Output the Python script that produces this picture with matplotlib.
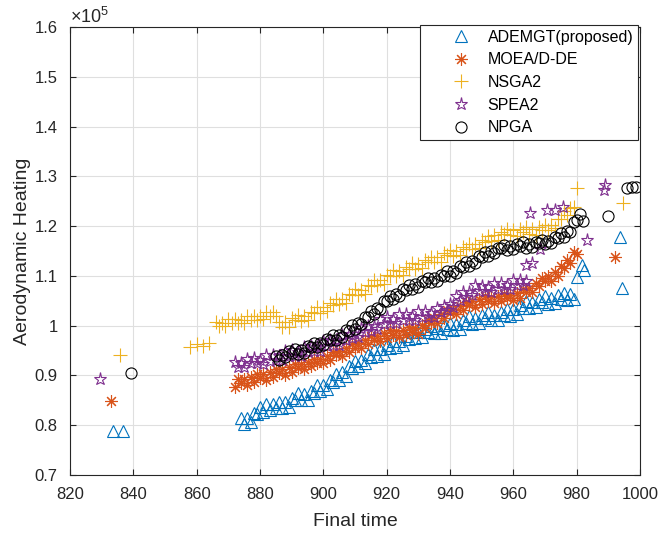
import matplotlib
matplotlib.use("Agg")
import matplotlib.pyplot as plt
from matplotlib.ticker import FormatStrFormatter, MultipleLocator

plt.rcParams['font.family'] = ['Liberation Sans', 'DejaVu Sans']
plt.rcParams['mathtext.fontset'] = 'custom'
plt.rcParams['mathtext.rm'] = 'Liberation Sans'

# Pareto fronts: final time vs aerodynamic heating (y in units of 1e5)
ademgt_x = [833.6, 836.7,
            874, 875, 876, 877, 878, 879, 880, 881, 882, 883, 884, 885, 886, 887, 888, 889, 890,
            891, 892, 893, 894, 895, 896, 897, 898, 899, 900, 901, 902, 903, 904, 905, 906, 907,
            908, 909, 910, 911, 912, 913, 914, 915, 916, 917, 918, 919, 920, 921, 922, 923, 924,
            925, 926, 927, 928, 929, 930, 931, 932, 933, 934, 935, 936, 937, 938, 939, 940, 941,
            942, 943, 944, 945, 946, 947, 948, 949, 950, 951, 952, 953, 954, 955, 956, 957, 958,
            959, 960, 961, 962, 963, 964, 965, 966, 967, 968, 969, 970, 971, 972, 973, 974, 975,
            976, 977, 978, 979,
            980, 981.6, 982.2, 993.7, 994.3]
ademgt_y = [0.788, 0.788,
            0.815, 0.802, 0.815, 0.806, 0.825, 0.822, 0.837, 0.827, 0.843, 0.830, 0.843, 0.834, 0.847,
            0.834, 0.846, 0.837, 0.855, 0.850, 0.864, 0.850, 0.862, 0.851, 0.868, 0.864, 0.880, 0.868,
            0.881, 0.873, 0.891, 0.887, 0.903, 0.891, 0.906, 0.898, 0.918, 0.914, 0.930, 0.918, 0.932,
            0.924, 0.943, 0.938, 0.953, 0.940, 0.953, 0.943, 0.961, 0.956, 0.970, 0.957, 0.970, 0.961,
            0.979, 0.974, 0.988, 0.975, 0.988, 0.977, 0.994, 0.987, 1.000, 0.985, 0.996, 0.985, 1.001,
            0.994, 1.006, 0.991, 1.004, 0.994, 1.012, 1.006, 1.019, 1.004, 1.016, 1.005, 1.022, 1.015,
            1.027, 1.011, 1.022, 1.011, 1.027, 1.021, 1.033, 1.020, 1.033, 1.024, 1.042, 1.036, 1.049,
            1.036, 1.048, 1.037, 1.053, 1.047, 1.059, 1.044, 1.055, 1.045, 1.061, 1.054, 1.066, 1.052,
            1.063, 1.053,
            1.098, 1.122, 1.112, 1.178, 1.075]

moead_x = [832.8,
           872, 873, 874, 875, 876, 877, 878, 879, 880, 881, 882, 883, 884, 885, 886, 887, 888,
           889, 890, 891, 892, 893, 894, 895, 896, 897, 898, 899, 900, 901, 902, 903, 904, 905,
           906, 907, 908, 909, 910, 911, 912, 913, 914, 915, 916, 917, 918, 919, 920, 921, 922,
           923, 924, 925, 926, 927, 928, 929, 930, 931, 932, 933, 934, 935, 936, 937, 938, 939,
           940, 941, 942, 943, 944, 945, 946, 947, 948, 949, 950, 951, 952, 953, 954, 955, 956,
           957, 958, 959, 960, 961, 962, 963, 964, 965, 966, 967, 968, 969, 970, 971, 972, 973,
           974, 975, 976, 977, 978, 979, 980,
           992.1]
moead_y = [0.849,
           0.876, 0.892, 0.884, 0.892, 0.880, 0.896, 0.887, 0.903, 0.895, 0.903, 0.891, 0.907, 0.897,
           0.913, 0.905, 0.912, 0.901, 0.917, 0.907, 0.923, 0.915, 0.923, 0.912, 0.927, 0.918, 0.934,
           0.926, 0.934, 0.924, 0.940, 0.932, 0.948, 0.941, 0.949, 0.939, 0.955, 0.947, 0.963, 0.956,
           0.965, 0.955, 0.971, 0.963, 0.980, 0.972, 0.980, 0.969, 0.985, 0.976, 0.991, 0.982, 0.989,
           0.977, 0.992, 0.982, 0.997, 0.988, 0.996, 0.984, 1.002, 0.995, 1.012, 1.006, 1.016, 1.006,
           1.023, 1.015, 1.032, 1.025, 1.034, 1.024, 1.040, 1.032, 1.048, 1.041, 1.049, 1.037, 1.053,
           1.043, 1.059, 1.050, 1.057, 1.045, 1.059, 1.049, 1.064, 1.055, 1.062, 1.051, 1.066, 1.056,
           1.073, 1.067, 1.076, 1.067, 1.086, 1.079, 1.096, 1.090, 1.099, 1.089, 1.107, 1.099, 1.120,
           1.116, 1.131, 1.126, 1.148, 1.144,
           1.137]

nsga2_x = [835.8,
           858, 860, 862, 864,
           866, 867, 868, 869, 870, 871, 872, 873, 874, 875, 876, 877, 878, 879, 880, 881, 882,
           883, 884, 885,
           886, 887, 888, 889, 890, 891, 892, 893, 894, 895, 896, 897, 898, 899, 900, 901, 902,
           903, 904, 905, 906, 907, 908, 909, 910, 911, 912, 913, 914, 915, 916, 917, 918, 919,
           920, 921, 922, 923, 924, 925, 926, 927, 928, 929, 930, 931, 932, 933, 934, 935, 936,
           937, 938, 939, 940, 941, 942, 943, 944, 945, 946, 947, 948, 949, 950, 951, 952, 953,
           954, 955, 956, 957, 958, 959, 960, 961, 962, 963, 964, 965, 966, 967, 968, 969, 970,
           971, 972, 973, 974, 975, 976, 977, 978, 979,
           980, 994.7]
nsga2_y = [0.941,
           0.958, 0.963, 0.960, 0.966,
           1.007, 0.999, 1.005, 0.999, 1.013, 1.006, 1.014, 1.006, 1.012, 1.006, 1.020, 1.012, 1.020,
           1.012, 1.019, 1.013, 1.027, 1.019, 1.027, 1.019,
           1.008, 0.997, 1.007, 0.998, 1.015, 1.011, 1.022, 1.010, 1.020, 1.012, 1.028, 1.025, 1.037,
           1.026, 1.037, 1.029, 1.045, 1.042, 1.054, 1.043, 1.054, 1.046, 1.064, 1.061, 1.073, 1.061,
           1.072, 1.064, 1.082, 1.079, 1.091, 1.081, 1.092, 1.084, 1.102, 1.099, 1.111, 1.099, 1.110,
           1.101, 1.118, 1.114, 1.125, 1.114, 1.124, 1.115, 1.131, 1.127, 1.138, 1.127, 1.137, 1.128,
           1.145, 1.141, 1.152, 1.140, 1.150, 1.141, 1.158, 1.154, 1.165, 1.154, 1.164, 1.156, 1.172,
           1.169, 1.181, 1.171, 1.182, 1.173, 1.189, 1.185, 1.195, 1.183, 1.192, 1.181, 1.195, 1.189,
           1.199, 1.185, 1.194, 1.183, 1.198, 1.192, 1.203, 1.192, 1.202, 1.196, 1.215, 1.215, 1.230,
           1.222, 1.237, 1.239,
           1.276, 1.246]

spea2_x = [829.5,
           872, 873, 874, 875, 876, 877, 878, 879, 880, 881, 882, 883, 884, 885, 886, 887, 888,
           889, 890, 891, 892, 893, 894, 895, 896, 897, 898, 899, 900, 901, 902, 903, 904, 905,
           906, 907, 908, 909, 910, 911, 912, 913, 914, 915, 916, 917, 918, 919, 920, 921, 922,
           923, 924, 925, 926, 927, 928, 929, 930, 931, 932, 933, 934, 935, 936, 937, 938, 939,
           940, 941, 942, 943, 944, 945, 946, 947, 948, 949, 950, 951, 952, 953, 954, 955, 956,
           957, 958, 959, 960, 961, 962, 963, 964,
           964, 966, 968.4, 965.3, 970.5, 973.1, 975.8, 983.2, 988.9, 988.5]
spea2_y = [0.892,
           0.927, 0.916, 0.925, 0.916, 0.934, 0.924, 0.935, 0.924, 0.932, 0.923, 0.941, 0.930, 0.941,
           0.931, 0.939, 0.931, 0.950, 0.939, 0.951, 0.940, 0.948, 0.939, 0.958, 0.947, 0.959, 0.949,
           0.958, 0.950, 0.969, 0.959, 0.971, 0.961, 0.970, 0.962, 0.981, 0.972, 0.984, 0.975, 0.984,
           0.977, 0.996, 0.987, 0.999, 0.990, 1.000, 0.993, 1.013, 1.004, 1.017, 1.006, 1.014, 1.005,
           1.023, 1.012, 1.023, 1.012, 1.020, 1.011, 1.029, 1.018, 1.029, 1.018, 1.026, 1.017, 1.036,
           1.027, 1.039, 1.031, 1.043, 1.037, 1.059, 1.052, 1.067, 1.058, 1.068, 1.061, 1.081, 1.070,
           1.080, 1.069, 1.077, 1.068, 1.085, 1.074, 1.085, 1.074, 1.082, 1.073, 1.091, 1.081, 1.092,
           1.082, 1.090,
           1.122, 1.126, 1.155, 1.226, 1.232, 1.232, 1.239, 1.172, 1.283, 1.273]

npga_x = [839.2,
          885, 886, 887, 888, 889, 890, 891, 892, 893, 894, 895, 896, 897, 898, 899, 900, 901,
          902, 903, 904, 905, 906, 907, 908, 909, 910, 911, 912, 913, 914, 915, 916, 917, 918,
          919, 920, 921, 922, 923, 924, 925, 926, 927, 928, 929, 930, 931, 932, 933, 934, 935,
          936, 937, 938, 939, 940, 941, 942, 943, 944, 945, 946, 947, 948, 949, 950, 951, 952,
          953, 954, 955, 956, 957, 958, 959, 960, 961, 962, 963, 964, 965, 966, 967, 968, 969,
          970, 971, 972, 973, 974, 975, 976, 977, 978, 979, 980, 981, 982,
          990, 995.8, 997.4, 998.6]
npga_y = [0.904,
          0.940, 0.932, 0.941, 0.938, 0.949, 0.946, 0.953, 0.944, 0.951, 0.946, 0.959, 0.957, 0.966,
          0.957, 0.966, 0.962, 0.974, 0.972, 0.981, 0.972, 0.981, 0.977, 0.991, 0.990, 1.001, 0.994,
          1.005, 1.003, 1.017, 1.018, 1.029, 1.024, 1.035, 1.033, 1.049, 1.050, 1.060, 1.053, 1.063,
          1.059, 1.073, 1.072, 1.081, 1.074, 1.083, 1.078, 1.090, 1.088, 1.096, 1.087, 1.095, 1.090,
          1.102, 1.100, 1.109, 1.100, 1.109, 1.105, 1.119, 1.118, 1.127, 1.120, 1.129, 1.125, 1.139,
          1.138, 1.147, 1.140, 1.149, 1.145, 1.157, 1.156, 1.163, 1.153, 1.160, 1.154, 1.164, 1.161,
          1.168, 1.157, 1.164, 1.158, 1.169, 1.166, 1.173, 1.164, 1.171, 1.166, 1.178, 1.176, 1.186,
          1.179, 1.191, 1.189, 1.208, 1.212, 1.224, 1.211,
          1.220, 1.276, 1.279, 1.279]

labels = ['ADEMGT(proposed)', 'MOEA/D-DE', 'NSGA2', 'SPEA2', 'NPGA']
colors = ['#0072BD', '#D95319', '#EDB120', '#7E2F8E', '#000000']
markers = ['^', (8, 2, 0), '+', '*', 'o']
msizes = [8, 9, 9.5, 9.5, 8]

fig = plt.figure(figsize=(6.59, 5.34), dpi=100)
ax = fig.add_axes([70 / 659, 59 / 534, 570 / 659, 448 / 534])

xs_all = [ademgt_x, moead_x, nsga2_x, spea2_x, npga_x]
ys_all = [ademgt_y, moead_y, nsga2_y, spea2_y, npga_y]
for xs, ys, lab, c, m, ms in zip(xs_all, ys_all, labels, colors, markers, msizes):
    ax.plot(xs, ys, linestyle='none', marker=m, markersize=ms, markerfacecolor='none',
            markeredgecolor=c, markeredgewidth=0.8, label=lab)

dark = '#262626'
ax.set_xlim(820, 1000)
ax.set_ylim(0.7, 1.6)
ax.xaxis.set_major_locator(MultipleLocator(20))
ax.yaxis.set_major_locator(MultipleLocator(0.1))
ax.yaxis.set_major_formatter(FormatStrFormatter('%g'))
ax.grid(True, color='#dfdfdf', linewidth=0.8)
ax.set_axisbelow(True)
ax.tick_params(direction='in', top=True, right=True, length=4, width=0.8,
               color=dark, labelcolor=dark, labelsize=12)
ax.tick_params(axis='x', pad=8.5)
ax.tick_params(axis='y', pad=9)
for sp in ax.spines.values():
    sp.set_color(dark)
    sp.set_linewidth(0.8)

ax.set_xlabel('Final time', fontsize=14, color=dark)
ax.set_ylabel('Aerodynamic Heating', fontsize=14, color=dark)
ax.xaxis.set_label_coords(0.5, -0.085)
ax.yaxis.set_label_coords(-0.068, 0.5)
ax.text(0.0, 0.999, r'$\times\mathregular{10^5}$', transform=ax.transAxes,
        ha='left', va='bottom', fontsize=13, color=dark)

leg = ax.legend(loc='upper right', bbox_to_anchor=(0.997, 1.0045), borderaxespad=0,
                fontsize=11.5, fancybox=False, framealpha=1, edgecolor=dark,
                handlelength=4.53, handletextpad=-0.58, borderpad=0.3, labelspacing=0.475)
leg.get_frame().set_linewidth(0.8)

fig.savefig('out.png', dpi=100)
